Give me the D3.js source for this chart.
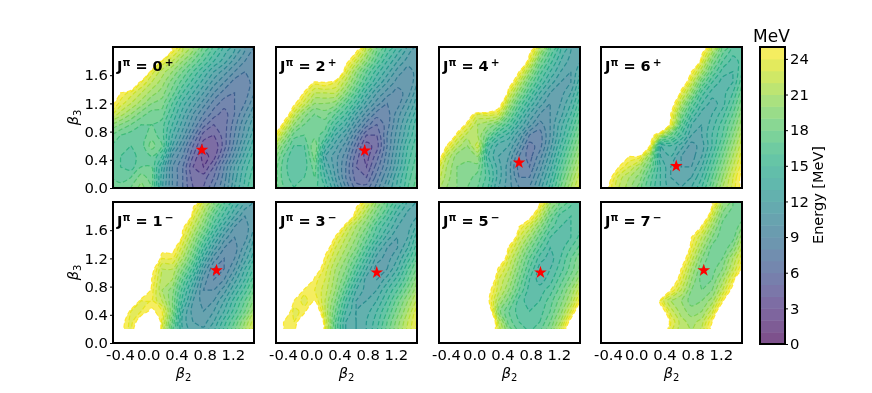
<!DOCTYPE html>
<html>
<head>
<meta charset="utf-8">
<script src="https://cdn.jsdelivr.net/npm/d3@7"></script>
<style>
body { margin: 0; background: #fff; }
svg { filter: blur(0.35px); }
text { font-family: "DejaVu Sans"; fill: #000; }
</style>
</head>
<body>
<svg></svg>
<script>
// energy, rows run from beta3 = 1.95 down to 0, 40 = off the map (white)
var beta2Nodes = [-0.54,-0.393,-0.246,-0.099,0.048,0.195,0.342,0.489,0.636,0.783,0.93,1.077,1.224,1.371,1.518];
var beta3Nodes = [1.95,1.8,1.65,1.5,1.35,1.2,1.05,0.9,0.75,0.6,0.45,0.3,0.15,0];

var energy0p = [
 [40,40,40,40,40,38,24.5,22,20,17.5,15.5,13.5,12,10,8.5],
 [40,40,40,40,33,24,22,20,18,16,14,12.5,10.5,9,8.5],
 [40,40,40,34,23.5,21.5,20,18,16,14,12,10.5,9,8,8.5],
 [40,40,30,24,22,20.5,18.5,16.5,14.5,12.5,10.5,9,7.5,7.5,8.5],
 [30,25,23.5,22,20.5,19.5,17.5,15,13,11,9,7.5,7,7.5,9],
 [26,23.5,22,20.5,19,18.5,16,13.5,11.5,9.5,7.5,6.5,7,8,10],
 [23.5,21.5,20,18.5,17.5,17.5,15,12.5,10,8,6.5,5.5,7,9,11],
 [20,19,18,17,17,16.5,14,11.5,9,6.5,5,5.5,7.5,10,12],
 [18,17,16.5,16.5,17.5,16.5,13,10.5,7.5,4.5,4,5.5,8,10.5,13],
 [17,16.5,16,16.5,18.5,17,12,9,6,3.5,3,5.5,8.5,11.5,14],
 [16.5,16,15.5,16.5,17,15,10,8,5,2.5,3.5,6.5,9.5,12.5,15],
 [16.5,16,15.5,17,17,13,9,7,4,3,5,8,11,13.5,15.5],
 [17,16.5,17,18.5,17.5,12.5,9,7,4.5,4.5,6,8.5,11.5,14,16],
 [17.5,17.5,18,19.5,18,12.5,9,7,5,5,7,9,12,14.5,16.5]
];
var energy2p = [
 [40,40,40,40,40,40,40,40,25.5,21.5,18,15.5,13.5,11.5,10],
 [40,40,40,40,40,40,40,26,22.5,19.5,16.5,14,12,10.5,10.5],
 [40,40,40,40,40,40,30,23.5,20,17,14.5,12.5,10.5,9.5,10.5],
 [40,40,40,30,24.5,25,24,21.5,18.5,15.5,13,11,9.5,9,11],
 [40,40,32,24.5,22,22,22,19.5,16.5,13.5,11,9.5,8.5,9.5,12],
 [40,32,25.5,22.5,20,20,19.5,17,14.5,11.5,9.5,8,8.5,10.5,13],
 [40,28,22.5,19.5,18,18.5,17,15,12,9.5,7.5,7.5,9.5,11.5,14],
 [31,24,20,18,17,17.5,15,13,10,7.5,6,7.5,10,12.5,15],
 [25.5,21,17.5,17,17.5,16.5,13,11,8,5,5,8,10.5,13,15.5],
 [22,18.5,16,16,19,14,11.5,9.5,6.5,3.5,4.5,8,11,14,16],
 [20,17,15,15.5,18.5,12,10.5,8.5,5.5,3.5,5.5,8.5,11.5,14.5,16.5],
 [19,16.5,15,15.5,17.5,13,10.5,8,5,4,6.5,9,12,15,17],
 [19,16.5,15.5,16,17,14,11,8,5.5,5,7.5,10,13,15.5,17.5],
 [19,17,16,16.5,16.5,15,12,9,6.5,6.5,8.5,11,13.5,16,18]
];
var energy4p = [
 [40,40,40,40,40,40,40,40,40,26,21,17,14,12,11.5],
 [40,40,40,40,40,40,40,40,31,23.5,18.5,15.5,13,11.5,12],
 [40,40,40,40,40,40,40,36,25,20.5,16.5,14,12,11,13],
 [40,40,40,40,40,40,40,27,22,18,15,12.5,11,11,14],
 [40,40,40,40,40,40,36,23.5,19.5,16,13,11,10.5,12,15],
 [40,40,40,40,40,33,27,21,17,14,11.5,10,11,13,16],
 [40,40,36,28,23,23.5,23,18.5,15,12,10,10,11.5,14,17],
 [40,40,29,24,21,20,18.5,16,13,10.5,8.5,10,12.5,15,18],
 [40,32,24,21.5,21,18,15,13.5,11,8,7.5,10,13,16,19],
 [36,25,21.5,20,22.5,15,12.5,12,9.5,6.5,7.5,10.5,14,17,20],
 [28,22,19.5,19.5,20,14,12,11,8,6.5,8.5,11.5,15,18,21],
 [24,21,19,18.5,18.5,15,12.5,10.5,7.5,7,9.5,12.5,16,19,22],
 [23,20.5,19,18.5,17.5,15.5,12.5,10.5,8,8,10.5,13.5,17,20,23],
 [22,20,19,18,17,15,12,10.5,9,9,11.5,14.5,18,21,24]
];
var energy6p = [
 [40,40,40,40,40,40,40,40,40,40,26,21.5,17.5,15.5,15],
 [40,40,40,40,40,40,40,40,40,33,23.5,19,16,14.5,15.5],
 [40,40,40,40,40,40,40,40,40,25,21,17,14.5,14,16],
 [40,40,40,40,40,40,40,40,28,22.5,18,15,13.5,14,17],
 [40,40,40,40,40,40,40,36,24,20,15.5,13.5,13.5,15,18],
 [40,40,40,40,40,40,40,27,21.5,17,14,12.5,13.5,16,19],
 [40,40,40,40,40,40,40,25,19,15,12.5,13,14.5,17,20],
 [40,40,40,40,40,40,33,24,17,13,12,13.5,15.5,18,21],
 [40,40,40,40,40,27,22,18,15,12,12,14,16,19,22],
 [40,40,40,40,40,25,13,14,12.5,10.5,11.5,14,17,20,23],
 [40,40,33,25,24.5,20,13,13,11,10.5,12,15,18,21,24],
 [40,32,25,23,21,18,14,12,11,11,13,16,19,22,25],
 [40,26,22.5,21,19.5,16.5,14,12,11.5,12,14,17,20,23,26],
 [40,25,22,20.5,18.5,16,14,12.5,12,13,15,18,21,23.5,26]
];
var energy1m = [
 [40,40,40,40,40,40,40,40,25.5,22,19,16,13.5,11.5,10.5],
 [40,40,40,40,40,40,40,33,23.5,20.5,17,14.5,12,10,10.5],
 [40,40,40,40,40,40,40,25.5,22,19,15.5,12.5,10,9.5,11],
 [40,40,40,40,40,40,35,24,20.5,17,13.5,10.5,9,9.5,12],
 [40,40,40,40,40,26,26,22.5,19,15,11.5,9,8.5,10.5,13],
 [40,40,40,40,30,24,24,21,17.5,13,9.5,8,9,11.5,14],
 [40,40,40,40,26,22,22,19,15.5,11,8,8,10,13,15.5],
 [40,40,40,36,25,21.5,21,17,13.5,9.5,8,9,11.5,14,17],
 [40,40,40,29,24.5,21,19.5,15.5,12,9,9,10.5,13,15.5,18],
 [40,40,30,24,24,22,19,14.5,11,9.5,10,12,14.5,17,19.5],
 [40,31,24,24,25.5,24,19,13,10.5,10,11,13,15.5,18,21],
 [40,26,23.5,26.5,34,23.5,18,12.5,11,10.5,12,14.5,17,20,23],
 [40,26,23.5,32,40,23,17,13,11.5,11.5,13,15.5,18,21,24],
 [40,30,26,36,40,24,17,13,12,12,13.5,16,19,22,25]
];
var energy3m = [
 [40,40,40,40,40,40,40,40,25.5,22.5,19.5,17,14.5,12.5,11.5],
 [40,40,40,40,40,40,40,29,23.5,20.5,18,15.5,13,11.5,12],
 [40,40,40,40,40,40,30,23.5,21,19,16,14,12,11.5,13.5],
 [40,40,40,40,40,33,24.5,22,20,17.5,15,12.5,11,12,15],
 [40,40,40,40,40,26.5,23,21,19,16,13,11,11,13,16],
 [40,40,40,40,33,24.5,22,20,17.5,14.5,11.5,10.5,12,14.5,17],
 [40,40,40,40,27,23.5,21,19,16,13,10.5,11,13,16,18.5],
 [40,40,40,30,24.5,23,20.5,18,14.5,11.5,11,12.5,14.5,17,20],
 [40,40,31,24.5,24,22.5,20,16.5,13,11.5,12,14,16,18.5,21],
 [40,34,25,23.5,25,22,19,15,12,12,13,15,17.5,20,22.5],
 [40,28,23.5,24.5,28,22,18,14,12,12.5,14,16,18.5,21,24],
 [40,25,24,27,36,23,17,13,12,13,14.5,17,19.5,22,24.5],
 [40,25,24.5,31,40,23.5,17,13,12,13,15,17.5,20,22.5,24.5],
 [40,26,27,36,40,24,17.5,13,12.5,13.5,15.5,18,20.5,23,25]
];
var energy5m = [
 [40,40,40,40,40,40,40,40,40,33,24.5,20,17.5,16,15.5],
 [40,40,40,40,40,40,40,40,34,26,22,18,15.5,15,15.5],
 [40,40,40,40,40,40,40,36,25,22.5,19.5,16.5,15,15,16],
 [40,40,40,40,40,40,40,29,23,20.5,17.5,15,14.5,15,16.5],
 [40,40,40,40,40,40,35,24.5,21.5,18.5,16,14,14.5,16,17.5],
 [40,40,40,40,40,40,29,23,20,17,14.5,13.5,15,17,19],
 [40,40,40,40,40,34,24.5,22,19,16,13.5,14,15.5,17.5,19.5],
 [40,40,40,40,40,29,23,21,18,15,13.5,14.5,16.5,18.5,21],
 [40,40,40,40,40,26,22.5,20,17,14.5,14.5,15.5,17.5,20,23],
 [40,40,40,40,40,25.5,21,18.5,15.5,14.5,15,16.5,18.5,21,25],
 [40,40,40,40,40,28,19.5,17,15.5,15,15.5,17,19.5,23,28],
 [40,40,40,40,40,32,22,17.5,16,15.5,16,18,21,26,33],
 [40,40,40,40,40,30,23,19,17,16,17,19,23,28,36],
 [40,40,40,40,40,30,24,20,18,17,18,20,24,30,40]
];
var energy7m = [
 [40,40,40,40,40,40,40,40,40,40,36,25,20,18,17.5],
 [40,40,40,40,40,40,40,40,40,40,29,22.5,18.5,17,17.5],
 [40,40,40,40,40,40,40,40,40,33,24.5,20.5,17.5,17,19],
 [40,40,40,40,40,40,40,40,36,25,22,19,17,17.5,21],
 [40,40,40,40,40,40,40,40,30,24,20.5,17.5,17,19,22.5],
 [40,40,40,40,40,40,40,40,27,22.5,19,17,18,21,24],
 [40,40,40,40,40,40,40,36,25,21,18,17.5,19,22,25.5],
 [40,40,40,40,40,40,40,28,23.5,20,17.5,18,20.5,24,31],
 [40,40,40,40,40,40,34,25,22,19,18,19,22,26,38],
 [40,40,40,40,40,36,24,21,20,18.5,19,20.5,24.5,31,40],
 [40,40,40,40,40,40,27,22.5,20.5,19.5,20,22.5,28,38,40],
 [40,40,40,40,40,40,32,24,21.5,20.5,21.5,25,33,40,40],
 [40,40,40,40,40,40,29,23,21.5,21,22.5,26,35,40,40],
 [40,40,40,40,40,40,30,24,22,21.5,23,28,36,40,40]
];

var grids = [energy0p, energy2p, energy4p, energy6p, energy1m, energy3m, energy5m, energy7m];
var spins = ["0","2","4","6","1","3","5","7"];
var parities = ["+","+","+","+","\u2212","\u2212","\u2212","\u2212"];
var starBeta2 = [0.762,0.758,0.635,0.567,0.968,0.929,0.939,0.958];
var starBeta3 = [0.54,0.53,0.36,0.31,1.03,1.0,1.0,1.03];
var beta2Ticks = [-0.4,0,0.4,0.8,1.2];
var beta3Ticks = [0,0.4,0.8,1.2,1.6];
var energyTicks = [0,3,6,9,12,15,18,21,24];

var width = 872, height = 393;
var panelLeft = [113,276,439,601];
var panelTop = [47,202];
var panelSize = 141;
var levels = d3.range(1,26);

var svg = d3.select("svg").attr("width",width).attr("height",height);

var xScale = d3.scaleLinear().domain([-0.5,1.5]).range([0,panelSize]);
var yScale = d3.scaleLinear().domain([0,2]).range([panelSize,0]);

function ringPath(gridX, gridY){
    var line = d3.line()
    .x(d=>gridX(d[0]))
    .y(d=>gridY(d[1]))
    .curve(d3.curveCatmullRomClosed.alpha(0.5));
    return function(multi){
        var out = "";
        multi.coordinates.forEach(poly=>{
            poly.forEach(ring=>{
                out += line(ring.slice(0,-1));
            });
        });
        return out;
    };
}

grids.forEach(function(grid,i){
    var col = i%4, row = i<4 ? 0 : 1;
    var g = svg.append("g")
    .attr("transform","translate("+[panelLeft[col],panelTop[row]]+")");

    // bottom row was only computed from beta3 = 0.2 up
    var clipBottom = row==0 ? panelSize : yScale(0.2);
    g.append("clipPath").attr("id","clip"+i)
    .append("rect").attr("width",panelSize).attr("height",clipBottom);

    var nx = beta2Nodes.length, ny = beta3Nodes.length;
    var gridX = d3.scaleLinear().domain([0.5,nx-0.5]).range([xScale(beta2Nodes[0]),xScale(beta2Nodes[nx-1])]);
    var gridY = d3.scaleLinear().domain([0.5,ny-0.5]).range([yScale(beta3Nodes[0]),yScale(beta3Nodes[ny-1])]);
    var path = ringPath(gridX,gridY);

    // negated so each threshold gives the area below that energy
    var values = [];
    grid.forEach(r=>r.forEach(v=>values.push(-v)));
    var contours = d3.contours().size([nx,ny]);

    var plot = g.append("g").attr("clip-path","url(#clip"+i+")");
    var fills = plot.append("g").attr("opacity",0.7);
    levels.slice().reverse().forEach(function(t){
        fills.append("path")
        .attr("d",path(contours.contour(values,-t)))
        .attr("fill",d3.interpolateViridis((t-0.5)/25));
    });
    var lines = plot.append("g").attr("opacity",0.9);
    levels.forEach(function(t){
        lines.append("path")
        .attr("d",path(contours.contour(values,-t)))
        .attr("fill","none")
        .attr("stroke",d3.interpolateViridis(t/25))
        .attr("stroke-width",1.2)
        .attr("stroke-dasharray","4.5 2.5");
    });

    g.append("path")
    .attr("d",d3.symbol(d3.symbolStar,50)())
    .attr("transform","translate("+[xScale(starBeta2[i]),yScale(starBeta3[i])]+")")
    .attr("fill","#f00");

    g.append("rect").attr("width",panelSize).attr("height",panelSize)
    .attr("fill","none").attr("stroke","#000").attr("stroke-width",2);

    var title = g.append("text").attr("x",4).attr("y",23.5).attr("font-size",14.5).attr("font-weight","bold");
    title.append("tspan").text("J");
    title.append("tspan").attr("dy",-5).attr("font-size",10).text("\u03c0");
    title.append("tspan").attr("dy",5).text(" = "+spins[i]);
    title.append("tspan").attr("dy",-5).attr("dx",2).attr("font-size",10.5).text(parities[i]);

    if(col==0){
        var yAxis = d3.axisLeft(yScale).tickValues(beta3Ticks).tickFormat(d3.format(".1f")).tickSize(3).tickPadding(2);
        g.append("g").call(yAxis).call(styleAxis);
        g.append("text")
        .attr("transform","translate(-35,"+panelSize/2+") rotate(-90)")
        .attr("text-anchor","middle").attr("font-size",14.5)
        .call(betaLabel,"3");
    }
    if(row==1){
        var xAxis = d3.axisBottom(xScale).tickValues(beta2Ticks).tickFormat(d=>d.toFixed(1)).tickSize(0).tickPadding(6);
        g.append("g").attr("transform","translate(0,"+panelSize+")").call(xAxis).call(styleAxis);
        g.append("text")
        .attr("x",panelSize/2).attr("y",panelSize+35)
        .attr("text-anchor","middle").attr("font-size",14.5)
        .call(betaLabel,"2");
    }
});

function betaLabel(sel,sub){
    sel.append("tspan").attr("font-style","italic").text("\u03b2");
    sel.append("tspan").attr("dy",3).attr("font-size",10).text(sub);
}

function styleAxis(sel){
    sel.select(".domain").remove();
    sel.selectAll("text").attr("font-family","DejaVu Sans").attr("font-size",14.8).attr("fill","#000");
    sel.selectAll("line").attr("stroke","#000");
}

// colorbar
var barX = 760, barW = 25, barTop = 47, barBottom = 344;
var barScale = d3.scaleLinear().domain([0,25]).range([barBottom,barTop]);
var bar = svg.append("g");
var bands = bar.append("g").attr("opacity",0.7);
bands.selectAll("rect").data(levels).join("rect")
.attr("x",barX).attr("width",barW)
.attr("y",d=>barScale(d))
.attr("height",d=>barScale(d-1)-barScale(d)+0.5)
.attr("fill",d=>d3.interpolateViridis((d-0.5)/25));
bar.append("rect").attr("x",barX).attr("y",barTop).attr("width",barW).attr("height",barBottom-barTop)
.attr("fill","none").attr("stroke","#000").attr("stroke-width",2);
bar.append("g").attr("transform","translate("+(barX+barW)+",0)")
.call(d3.axisRight(barScale).tickValues(energyTicks).tickSize(3).tickPadding(2))
.call(styleAxis);
svg.append("text").attr("x",753).attr("y",42).attr("font-size",17).text("MeV");
svg.append("text")
.attr("transform","translate(823,195) rotate(-90)")
.attr("text-anchor","middle").attr("font-size",14.5)
.text("Energy [MeV]");
</script>
</body>
</html>
